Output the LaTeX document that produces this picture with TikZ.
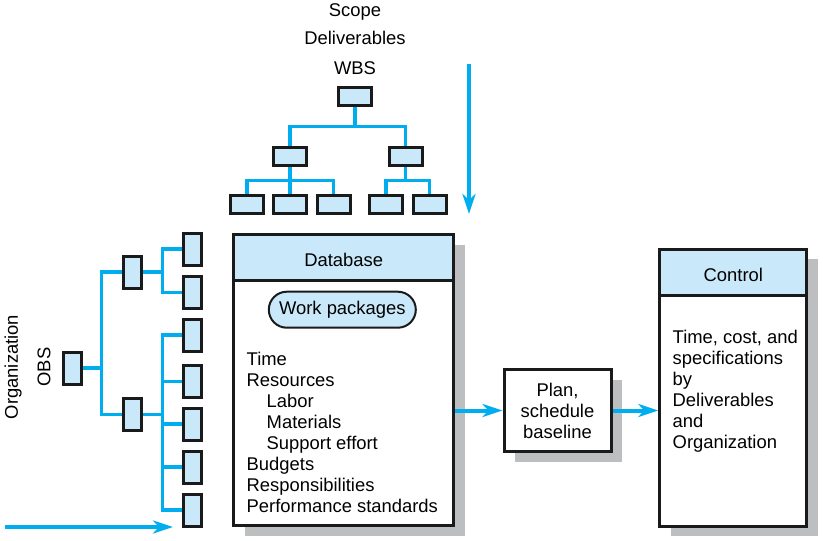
\documentclass[tikz,border=0pt]{standalone}
\usepackage{fontspec}
\setmainfont{Liberation Sans}
\usetikzlibrary{arrows.meta,shapes.misc,shadows,backgrounds}

\definecolor{boxblue}{HTML}{C9E9FA}
\definecolor{linkblue}{HTML}{00AEEF}
\definecolor{shadowgray}{HTML}{BCBEC0}
\definecolor{edge}{HTML}{1A1A1A}

\begin{document}
\begin{tikzpicture}[x=1pt, y=-1pt,
    every node/.style={font=\fontsize{18.4}{21}\selectfont, inner sep=0pt},
    hbox/.style={draw=edge, line width=3pt, fill=boxblue, minimum width=33pt, minimum height=18pt},
    vbox/.style={draw=edge, line width=3pt, fill=boxblue, minimum width=18pt, minimum height=32pt},
    panel/.style={draw=edge, line width=3pt, fill=white,
        drop shadow={shadow xshift=11pt, shadow yshift=-10pt, opacity=1, fill=shadowgray}},
    head/.style={draw=edge, line width=3pt, fill=boxblue, minimum height=46pt,
        text height=18pt, text depth=0pt},
    conn/.style={linkblue, line width=3.3pt},
    flow/.style={linkblue, line width=4pt, -{Stealth[length=20pt, width=13pt, inset=6pt]}}]
    \useasboundingbox (0,0) rectangle (823,541);

    % WBS
    \node[anchor=base] (scope) at (355,16) {Scope};
    \node[anchor=base] (deliv) at (355,44.3) {Deliverables};
    \node[anchor=base] (wbs) at (355,74) {WBS};
    \node[hbox] (w0) at (355,96) {};
    \node[hbox] (w1) at (290,156) {};
    \node[hbox] (w2) at (405.5,156) {};
    \foreach \i/\x in {1/247, 2/290, 3/333.5, 4/386, 5/429.5} {
        \node[hbox] (v\i) at (\x,204.5) {};
    }

    % OBS
    \node[rotate=90] (org) at (13,367) {Organization};
    \node[rotate=90] (obs) at (44,367) {OBS};
    \node[vbox] (o0) at (72,368) {};
    \node[vbox] (o1) at (132,272) {};
    \node[vbox] (o2) at (132,414.5) {};
    \foreach \i/\y in {1/249, 2/292.5, 3/335, 4/381.5, 5/424, 6/467, 7/510} {
        \node[vbox] (r\i) at (192,\y) {};
    }

    % database, plan and control
    \node[panel, minimum width=220pt, minimum height=291pt] (db) at (343.7,380) {};
    \node[head, minimum width=220pt, anchor=north] (dbhead) at (db.north) {Database};
    \node[draw=edge, line width=2pt, fill=boxblue, rounded rectangle,
        minimum width=147pt, minimum height=36pt] (wp) at (342.3,309.7) {Work packages};
    \node[anchor=north west, align=left] (dbtext) at (246.5,351.5) {Time\\Resources\\
        \hspace*{20pt}Labor\\\hspace*{20pt}Materials\\\hspace*{20pt}Support effort\\
        Budgets\\Responsibilities\\Performance standards};

    \node[panel, minimum width=107pt, minimum height=82pt, align=center] (plan) at (557.5,410.5)
        {Plan,\\schedule\\baseline};

    \node[panel, minimum width=147pt, minimum height=277pt] (ctl) at (733.3,387.5) {};
    \node[head, minimum width=147pt, anchor=north] (ctlhead) at (ctl.north) {Control};
    \node[anchor=north west, align=left] (ctltext) at (672.5,329.5) {Time, cost, and\\
        specifications\\by\\Deliverables\\and\\Organization};

    \coordinate (wtop) at (469,64);
    \coordinate (wbot) at (469,214);
    \coordinate (otail) at (5,527);
    \coordinate (ohead) at (173,527);

    \begin{scope}[on background layer]
        \draw[conn] (w0.south) -- ++(0,20) coordinate (j0);
        \draw[conn] (j0) -| (w1.north);
        \draw[conn] (j0) -| (w2.north);
        \draw[conn] (w1.south) -- ++(0,14) coordinate (j1);
        \foreach \i in {1,2,3} {
            \draw[conn] (j1) -| (v\i.north);
        }
        \draw[conn] (w2.south) -- ++(0,14) coordinate (j2);
        \foreach \i in {4,5} {
            \draw[conn] (j2) -| (v\i.north);
        }
        \draw[conn] (o0.east) -- ++(19,0) coordinate (k0);
        \draw[conn] (k0) |- (o1.west);
        \draw[conn] (k0) |- (o2.west);
        \draw[conn] (o1.east) -- ++(20,0) coordinate (k1);
        \foreach \i in {1,2} {
            \draw[conn] (k1) |- (r\i.west);
        }
        \draw[conn] (o2.east) -- ++(20,0) coordinate (k2);
        \foreach \i in {3,...,7} {
            \draw[conn] (k2) |- (r\i.west);
        }
    \end{scope}

    \draw[flow] (wtop) -- (wbot);
    \draw[flow] (otail) -- (ohead);
    \draw[flow] (db.east |- plan.west) -- (plan.west);
    \draw[flow] (plan.east) -- (plan.east -| ctl.west);
\end{tikzpicture}
\end{document}
